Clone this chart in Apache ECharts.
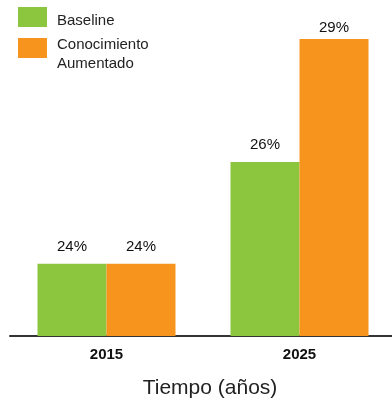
<!DOCTYPE html>
<html>
<head>
<meta charset="utf-8">
<script src="https://cdn.jsdelivr.net/npm/echarts@6/dist/echarts.min.js"></script>
<style>
html,body{margin:0;padding:0;background:#fff;}
#chart{width:392px;height:398px;}
</style>
</head>
<body>
<div id="chart"></div>
<script>
var categories = ['2015', '2025'];
var seriesNames = ['Baseline', 'Conocimiento\nAumentado'];
var baseline = [23.7, 26.1];
var conocimiento = [23.7, 29.0];
var labelTexts = [['24%', '26%'], ['24%', '29%']];
var axisTitle = 'Tiempo (años)';
var colors = ['#8CC63F', '#F7941E'];

var font = '"Liberation Sans", Arial, Helvetica, sans-serif';
var chart = echarts.init(document.getElementById('chart'));

function makeSeries(idx, values) {
  return {
    name: seriesNames[idx],
    type: 'bar',
    barWidth: 69,
    barGap: '0%',
    itemStyle: { color: colors[idx] },
    data: values.map(function (v, i) {
      var item = { value: v };
      if (v === 29.0) { item.label = { distance: 4 }; }
      return item;
    }),
    label: {
      show: true,
      position: 'top',
      distance: 10,
      fontFamily: font,
      fontSize: 15,
      color: '#111',
      formatter: function (p) { return labelTexts[idx][p.dataIndex]; }
    }
  };
}

chart.setOption({
  animation: false,
  textStyle: { fontFamily: font },
  grid: { left: 10, right: -4, top: 39, bottom: 62, containLabel: false, outerBoundsMode: 'none' },
  legend: {
    orient: 'vertical',
    left: 18,
    top: 4,
    padding: 0,
    itemWidth: 29,
    itemHeight: 20,
    itemGap: -7,
    icon: 'rect',
    formatter: function (name) {
      var lines = name.split('\n');
      var spacer = lines.length > 1 ? '{s2| }' : '{s1| }';
      return spacer + '\n' + lines.map(function (l) { return '{t|' + l + '}'; }).join('\n');
    },
    textStyle: {
      fontFamily: font, fontSize: 15, lineHeight: 19, color: '#222', padding: [0, 0, 0, 5],
      rich: {
        s1: { fontSize: 1, lineHeight: 7 },
        s2: { fontSize: 1, lineHeight: 12 },
        t: { fontFamily: font, fontSize: 15, lineHeight: 19, color: '#222' }
      }
    },
    data: seriesNames
  },
  xAxis: {
    type: 'category',
    data: categories,
    axisLine: { show: true, lineStyle: { color: '#333', width: 2 } },
    axisTick: { show: false },
    axisLabel: { fontFamily: font, fontSize: 15, fontWeight: 'bold', color: '#111', margin: 11 },
    name: axisTitle,
    nameLocation: 'middle',
    nameGap: 42,
    nameTextStyle: { fontFamily: font, fontSize: 21, color: '#222', padding: [0, 0, 0, 14] }
  },
  yAxis: {
    type: 'value',
    min: 22,
    max: 29,
    show: false,
    splitLine: { show: false }
  },
  series: [makeSeries(0, baseline), makeSeries(1, conocimiento)]
});
</script>
</body>
</html>
